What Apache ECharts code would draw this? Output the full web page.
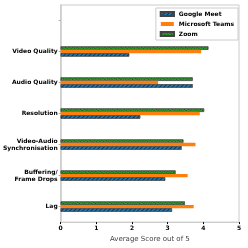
<!DOCTYPE html>
<html><head><meta charset="utf-8">
<script src="https://cdn.jsdelivr.net/npm/echarts@6/dist/echarts.min.js"></script>
<style>html,body{margin:0;padding:0;background:#fff}#c{width:248px;height:248px}</style>
</head><body><div id="c"></div>
<script>
// categories bottom-to-top (top slot is empty)
const categories = ['Lag', 'Buffering/\nFrame Drops', 'Video-Audio\nSynchronisation', 'Resolution', 'Audio Quality', 'Video Quality', ''];
const googleMeet = [3.12, 2.93, 3.39, 2.23, 3.70, 1.92, null];
const microsoftTeams = [3.73, 3.56, 3.78, 3.90, 2.73, 3.94, null];
const zoom = [3.48, 3.22, 3.44, 4.02, 3.70, 4.14, null];
const xTicks = [0, 1, 2, 3, 4, 5];
const seriesNames = ['Google Meet', 'Microsoft Teams', 'Zoom'];

const chart = echarts.init(document.getElementById('c'), null, {renderer: 'canvas'});
const font = 'DejaVu Sans';
chart.setOption({
  animation: false,
  aria: {enabled: true, decal: {show: true}},
  grid: {left: 60, right: 9, top: 5, bottom: 18, show: true, borderColor: '#cccccc', borderWidth: 1},
  legend: {
    data: seriesNames, orient: 'vertical', right: 10, top: 8,
    icon: 'rect', itemWidth: 13, itemHeight: 4, itemGap: 4,
    borderColor: '#cccccc', borderWidth: 1, padding: [3, 4, 3, 4],
    textStyle: {fontFamily: font, fontSize: 6, fontWeight: 'bold', color: '#000'}
  },
  xAxis: {
    type: 'value', min: xTicks[0], max: xTicks[xTicks.length - 1], interval: 1,
    name: 'Average Score out of 5', nameLocation: 'middle', nameGap: 10,
    nameTextStyle: {fontFamily: font, fontSize: 7, color: '#444'},
    axisLine: {show: true, lineStyle: {color: '#cccccc'}},
    axisTick: {show: true, length: 2, lineStyle: {color: '#000'}},
    axisLabel: {fontFamily: font, fontSize: 6, fontWeight: 'bold', color: '#000', margin: 3},
    splitLine: {show: false}
  },
  yAxis: {
    type: 'category', data: categories,
    axisLine: {show: true, lineStyle: {color: '#cccccc', width: 1.5}},
    axisTick: {show: true, alignWithLabel: true, length: 2, lineStyle: {color: '#aaa'}},
    axisLabel: {fontFamily: font, fontSize: 6, fontWeight: 'bold', color: '#000', margin: 3, lineHeight: 7}
  },
  series: [
    {name: seriesNames[2], type: 'bar', data: zoom, barWidth: 3.4, barGap: '0%',
     itemStyle: {color: '#2ca02c', borderColor: '#444', borderWidth: 0.5,
       decal: {symbol: 'rect', symbolSize: 1, dashArrayX: [1, 1], dashArrayY: [1, 1], color: 'rgba(0,0,0,0.5)'}}},
    {name: seriesNames[1], type: 'bar', data: microsoftTeams, barWidth: 3.4, barGap: '0%',
     itemStyle: {color: '#ff7f0e', decal: {symbol: 'none'}}},
    {name: seriesNames[0], type: 'bar', data: googleMeet, barWidth: 3.4, barGap: '0%',
     itemStyle: {color: '#1f77b4', borderColor: '#444', borderWidth: 0.5,
       decal: {symbol: 'rect', symbolSize: 1, dashArrayX: [1, 0], dashArrayY: [1, 2], rotation: -Math.PI / 4, color: 'rgba(0,0,0,0.55)'}}}
  ]
});
</script></body></html>
